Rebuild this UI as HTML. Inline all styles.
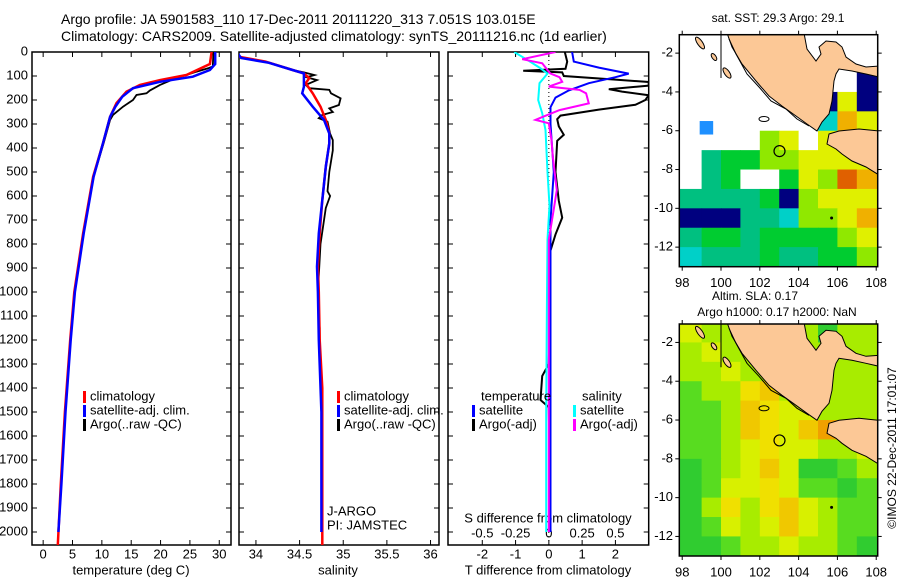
<!DOCTYPE html>
<html><head><meta charset="utf-8">
<style>
body{margin:0;background:#fff;}
svg{display:block;font-family:"Liberation Sans",sans-serif;}
text{font-size:13px;fill:#000;}
</style></head>
<body>
<svg id="chart" width="900" height="580" viewBox="0 0 900 580" xmlns="http://www.w3.org/2000/svg">
<defs>
<clipPath id="c1"><rect x="32" y="52" width="199" height="493"/></clipPath>
<clipPath id="c2"><rect x="239" y="52" width="200" height="493"/></clipPath>
<clipPath id="c3"><rect x="448" y="52" width="200.7" height="493"/></clipPath>
<clipPath id="m1"><rect x="679.3" y="34.7" width="198.4" height="232"/></clipPath>
<clipPath id="m2"><rect x="679.3" y="324" width="198.4" height="232"/></clipPath>
</defs>
<text x="61" y="24" style="font-size:14px">Argo profile: JA 5901583_110 17-Dec-2011 20111220_313 7.051S 103.015E</text>
<text x="61" y="41" style="font-size:14px">Climatology: CARS2009. Satellite-adjusted climatology: synTS_20111216.nc (1d earlier)</text>
<g id="layer"></g>
</svg>
<script>
// ---- depth profile data (depth m, value) ----
const depthTicks=[0,100,200,300,400,500,600,700,800,900,1000,1100,1200,1300,1400,1500,1600,1700,1800,1900,2000];
const tempTicks=[0,5,10,15,20,25,30];
const salTicks=[34,34.5,35,35.5,36];
const salTickLabels=["34","34.5","35","35.5","36"];
const tdTicks=[-2,-1,0,1,2];
const sdTicks=[-0.5,-0.25,0,0.25,0.5];
const sdTickLabels=["-0.5","-0.25","0","0.25","0.5"];

const tempClimDepth=[0,50,96,117,137,165,213,270,380,520,756,1000,1200,1500,1800,2054];
const tempClim=[28.7,28.4,24.4,19.9,16.5,14.2,12.5,11.4,10.2,8.5,6.8,5.3,4.6,3.7,3.0,2.5];
const tempSatDepth=[0,50,75,103,124,151,186,228,270,380,520,756,1000,1200,1500,1800,2000];
const tempSat=[29.3,29.3,28.4,25.5,19.9,15.3,13.5,12.3,11.4,10.2,8.6,6.9,5.4,4.7,3.8,3.1,2.6];
const tempArgoDepth=[0,60,68,82,96,108,137,160,172,179,200,228,262,283,380,520,756,1000,1200,1500];
const tempArgo=[29.0,28.9,28.1,26.1,24.4,22.7,19.9,18.2,17.6,15.9,15.3,13.6,11.9,11.4,10.3,8.6,6.9,5.4,4.7,3.7];

const salClimDepth=[0,20,40,75,89,109,130,172,228,283,339,381,478,617,756,894,1000,1200,1400,1700,2054];
const salClim=[33.78,33.81,34.11,34.42,34.55,34.61,34.57,34.65,34.74,34.80,34.84,34.84,34.80,34.76,34.73,34.71,34.72,34.73,34.76,34.76,34.76];
const salSatDepth=[0,25,45,75,89,145,172,228,283,340,381,478,617,756,894,1000,1200,1500,2000];
const salSat=[33.78,33.83,34.15,34.42,34.55,34.55,34.53,34.65,34.78,34.84,34.84,34.80,34.76,34.72,34.70,34.71,34.72,34.75,34.75];
const salArgoDepth=[0,20,40,75,85,96,105,117,137,151,158,172,193,221,235,250,262,276,290,340,367,410,500,580,600,650,800,1000,1150,1250,1500];
const salArgo=[33.78,33.81,34.11,34.42,34.55,34.67,34.58,34.70,34.57,34.61,34.84,34.86,34.97,34.95,34.84,34.88,34.76,34.72,34.82,34.85,34.88,34.88,34.84,34.82,34.85,34.80,34.74,34.71,34.73,34.73,34.75];

const tdSatDepth=[0,40,65,90,105,130,160,190,230,300,500,700,1000,1500,2000];
const tdSat=[0.7,0.75,1.5,2.4,2.0,1.2,0.6,0.2,0.05,0.05,0.15,0.05,0.05,0.05,0.05];
const tdArgoDepth=[0,40,70,78,85,100,115,125,140,155,165,180,200,220,240,265,280,310,345,370,500,620,690,760,850,950,1300,1350,1450,1480,2000];
const tdArgo=[0.48,0.55,0.5,-0.77,0.4,0.45,2.0,3.0,3.0,1.8,2.2,3.0,2.9,2.6,1.5,0.35,0.25,0.3,0.45,0.25,0.2,0.3,0.4,0.2,0.0,0.05,0.0,-0.2,-0.25,0.0,0.05];
const sdSatDepth=[0,30,65,90,130,200,255,325,500,640,780,1060,1500,2000];
const sdSat=[-0.26,-0.17,-0.07,-0.01,-0.07,-0.08,-0.05,-0.025,-0.01,0.005,-0.01,-0.015,-0.02,-0.02];
const sdArgoDepth=[0,30,47,89,105,124,144,158,172,214,242,276,283,297,367,436,575,644,783,1061,1500,2000];
const sdArgo=[0.05,-0.2,-0.05,0.01,0.08,0.1,0.0,0.23,0.28,0.3,0.08,-0.07,-0.1,0.0,0.02,0.03,0.06,0.04,0.0,0.0,0.0,0.0];

// ---- map data: 1-degree cells lon 98..108, lat -1..-13 (colour classes) ----
const lonTicks=[98,100,102,104,106,108];
const latTicks=[-2,-4,-6,-8,-10,-12];
const sstRows=["wwwwwwwwww","wwwwwwwwww","wwwwwwwwwn","wwwwwwwnyn","wwwwwwwcoy","wwwwlywyoy","wtggllyyyy","wtgwwgylro","ttttgnlyyy","nnnttcllyo","tggtggggly","ctttgttggl"];
const slaRows=["yllllllGll","lyllllllll","llylllllll","gllYolllll","ggloYyylll","ggloYyoOll","gglyYyylly","GglyoyGGgl","GgyyYyggGg","GlYlYoylgg","Ggylyoylgg","GGgllyllgG"];
const sstColors={w:"#ffffff",n:"#00007f",b:"#1e90ff",c:"#00d0c8",t:"#00c080",g:"#00cc30",l:"#90e800",y:"#e0f000",o:"#f0b000",r:"#e06000"};
const slaColors={G:"#30cc30",g:"#58dc20",l:"#a8ec00",y:"#d8f000",Y:"#f0e000",o:"#f0c800",O:"#f0a000"};
const argoLon=103.015, argoLat=-7.051;

const NS="http://www.w3.org/2000/svg";
const layer=document.getElementById('layer');
function mk(tag,attrs,parent){const e=document.createElementNS(NS,tag);for(const k in attrs)e.setAttribute(k,attrs[k]);(parent||layer).appendChild(e);return e;}
function txt(x,y,s,anchor,parent,size){const t=mk('text',{x:x,y:y,'text-anchor':anchor||'start','dominant-baseline':'middle'},parent);if(size)t.style.fontSize=size+'px';t.textContent=s;return t;}

const Y0=52, Y1=545;
function yD(d){return Y0+d*0.24;}
const panels=[
 {x0:32,x1:231,v0:-1.9,v1:32.0,clip:'c1'},
 {x0:239,x1:439,v0:33.806,v1:36.097,clip:'c2'},
 {x0:448,x1:648.7,v0:-3.03,v1:3.0,clip:'c3'}
];
function xf(p,v){return p.x0+(v-p.v0)/(p.v1-p.v0)*(p.x1-p.x0);}
function xs(v){return xf(panels[2],v*4);}

depthTicks.forEach(d=>{const t=txt(28,yD(d),String(d),'end');
 
 });

panels.forEach((p,i)=>{
 const r=mk('rect',{x:p.x0,y:Y0,width:p.x1-p.x0,height:Y1-Y0,fill:'none',stroke:'#000','stroke-width':1.5});
 
 
 depthTicks.forEach(d=>{
  mk('line',{x1:p.x0,x2:p.x0+5,y1:yD(d),y2:yD(d),stroke:'#000'});
  mk('line',{x1:p.x1-5,x2:p.x1,y1:yD(d),y2:yD(d),stroke:'#000'});
 });
});
function xTicks(p,vals,labels,name){
 vals.forEach((v,i)=>{const x=xf(p,v);
  mk('line',{x1:x,x2:x,y1:Y0,y2:Y0+5,stroke:'#000'});
  mk('line',{x1:x,x2:x,y1:Y1-5,y2:Y1,stroke:'#000'});
  const t=txt(x,555,labels?labels[i]:String(v),'middle');
  
  
 });
}
xTicks(panels[0],tempTicks,null,'temperature-tick-label');
xTicks(panels[1],salTicks,salTickLabels,'salinity-tick-label');
xTicks(panels[2],tdTicks,null,'t-diff-tick-label');
sdTicks.forEach((v,i)=>{const t=txt(xs(v),534,sdTickLabels[i],'middle');
 
 });

let t;
t=txt(131,571,'temperature (deg C)','middle');
t=txt(338,571,'salinity','middle');
t=txt(548,571,'T difference from climatology','middle');
t=txt(548,519,'S difference from climatology','middle');

mk('line',{x1:xf(panels[2],0),x2:xf(panels[2],0),y1:Y0,y2:Y1,stroke:'#000','stroke-dasharray':'1,3'});

function series(p,depths,vals,color,name,w,xfn){
 const pts=depths.map((d,i)=>(xfn?xfn(vals[i]):xf(p,vals[i])).toFixed(1)+','+yD(d).toFixed(1)).join(' ');
 const g=mk('polyline',{points:pts,fill:'none',stroke:color,'stroke-width':w||2.2,'clip-path':'url(#'+p.clip+')'});
 
 
}
series(panels[0],tempArgoDepth,tempArgo,'#000','temp-argo-line',1.8);
series(panels[0],tempClimDepth,tempClim,'#ff0000','temp-climatology-line',2.5);
series(panels[0],tempSatDepth,tempSat,'#0000ff','temp-satellite-line',2.5);
series(panels[1],salArgoDepth,salArgo,'#000','salinity-argo-line',1.8);
series(panels[1],salClimDepth,salClim,'#ff0000','salinity-climatology-line',2.5);
series(panels[1],salSatDepth,salSat,'#0000ff','salinity-satellite-line',2.5);
series(panels[2],tdArgoDepth,tdArgo,'#000','t-diff-argo-line',2);
series(panels[2],tdSatDepth,tdSat,'#0000ff','t-diff-satellite-line',2);
series(panels[2],sdSatDepth,sdSat,'#00ffff','s-diff-satellite-line',2,xs);
series(panels[2],sdArgoDepth,sdArgo,'#ff00ff','s-diff-argo-line',2,xs);

function legItem(x,y,color,label,name){
 const g=mk('g',{});
 
 
 mk('rect',{x:x,y:y-6,width:3,height:12,fill:color},g);
 txt(x+7,y,label,'start',g);
}
legItem(83,397,'#ff0000','climatology','legend-climatology');
legItem(83,411,'#0000ff','satellite-adj. clim.','legend-satellite-adj');
legItem(83,425,'#000','Argo(..raw -QC)','legend-argo');
legItem(337,397,'#ff0000','climatology','legend-sal-climatology');
legItem(337,411,'#0000ff','satellite-adj. clim.','legend-sal-satellite-adj');
legItem(337,425,'#000','Argo(..raw -QC)','legend-sal-argo');
t=txt(481,397,'temperature');
t=txt(582,397,'salinity');
legItem(472,411,'#0000ff','satellite','legend-t-satellite');
legItem(472,425,'#000','Argo(-adj)','legend-t-argo');
legItem(573,411,'#00ffff','satellite','legend-s-satellite');
legItem(573,425,'#ff00ff','Argo(-adj)','legend-s-argo');
t=txt(327,512,'J-ARGO');
t=txt(327,526,'PI: JAMSTEC');

// ---- maps ----
const MX0=679.3, MX1=877.7, MS=19.4;
function lonX(lon){return MX0+(lon-97.85)*MS;}
function drawMap(top,rows,colors,clip,name,titleLines,extra){
 const latY=lat=>top+(-1.05-lat)*MS;
 const g=mk('g',{'clip-path':'url(#'+clip+')'});
 
 
 rows.forEach((row,ri)=>{
  for(let ci=0;ci<10;ci++){
   const c=colors[row[ci]]||'#ffffff';
   const lon=98+ci, lat=-1-ri;
   const x=ci===0?MX0:lonX(lon), x2=ci===9?MX1:lonX(lon+1);
   const y=ri===0?top:latY(lat), y2=latY(lat-1)+(ri===11?3:0);
   mk('rect',{x:x,y:y,width:x2-x+0.5,height:y2-y+0.5,fill:c},g);
  }
 });
 if(extra) extra(g,latY);
 const dy=top-34.7;
 const land=mk('g',{transform:'translate(0,'+dy+')'},g);
 const P=s=>mk('polygon',{points:s,fill:'#fcc896',stroke:'#000','stroke-width':1},land);
 P('727,33 804,33 807,49 816,61 821,54 819,47 826,41 836,42 842,47 846,57 856,64 866,67 879,66 879,77 866,74 852,71 839,69 836,74 834,81 832,101 829,114 822,122 817,131 807,124 796,116 782,106 769,96 756,81 742,64 732,47');
 P('829,134 839,131 859,129 879,131 879,175 866,167 852,161 842,154 836,149 827,144');
 mk('polyline',{points:'729,39 736,54 747,74 759,87 771,101 786,109 797,119 809,126',fill:'none',stroke:'#000','stroke-width':1},land);
 mk('ellipse',{cx:700,cy:43,rx:2.5,ry:7,fill:'#fcc896',stroke:'#000',transform:'rotate(-35 700 43)'},land);
 mk('ellipse',{cx:714,cy:57,rx:2,ry:4,fill:'#fcc896',stroke:'#000',transform:'rotate(-35 714 57)'},land);
 mk('ellipse',{cx:727,cy:73,rx:2.5,ry:6,fill:'#fcc896',stroke:'#000',transform:'rotate(-35 727 73)'},land);
 mk('ellipse',{cx:764,cy:119,rx:5,ry:2.5,fill:'none',stroke:'#000'},land);
 mk('line',{x1:721,x2:721,y1:34,y2:78,stroke:'#000'},land);
 mk('circle',{cx:lonX(argoLon),cy:latY(argoLat),r:5.5,fill:'none',stroke:'#000','stroke-width':1.2},g);
 mk('circle',{cx:lonX(105.7),cy:latY(-10.5),r:1.5,fill:'#000'},g);
 const fr=mk('rect',{x:MX0,y:top,width:MX1-MX0,height:232,fill:'none',stroke:'#000','stroke-width':1.5});
 
 
 lonTicks.forEach(l=>{const x=lonX(l);
  mk('line',{x1:x,x2:x,y1:top,y2:top-4,stroke:'#000'});
  mk('line',{x1:x,x2:x,y1:top+232,y2:top+236,stroke:'#000'});
  const tt=txt(x,top+249,String(l),'middle');
  
  });
 latTicks.forEach(l=>{const y=latY(l);
  mk('line',{x1:MX0-4,x2:MX0,y1:y,y2:y,stroke:'#000'});
  mk('line',{x1:MX1,x2:MX1+4,y1:y,y2:y,stroke:'#000'});
  const tt=txt(673,y,String(l),'end');
  
  });
 titleLines.forEach(tl=>{const tt=txt(tl[0],tl[1],tl[2],'middle',null,12);
 
 });
}
drawMap(34.7,sstRows,sstColors,'m1','sst-map',[[778,19,'sat. SST: 29.3 Argo: 29.1']],(g,latY)=>{
 mk('rect',{x:lonX(98.9),y:latY(-5.5),width:13.5,height:13.5,fill:'#1e90ff'},g);
});
drawMap(324,slaRows,slaColors,'m2','sla-map',[[755,297,'Altim. SLA: 0.17'],[777,313,'Argo h1000: 0.17 h2000: NaN']]);
const cr=txt(0,0,'©IMOS 22-Dec-2011 17:01:07','middle',null,12);
cr.setAttribute('transform','translate(893,448) rotate(-90)');


</script>
</body></html>
